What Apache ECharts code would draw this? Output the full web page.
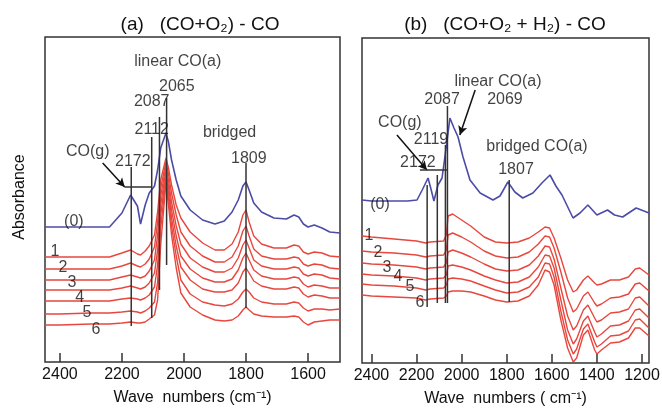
<!DOCTYPE html>
<html>
<head>
<meta charset="UTF-8">
<title></title>
<script src="https://cdn.jsdelivr.net/npm/echarts@6/dist/echarts.min.js"></script>
<style>html, body { margin: 0; padding: 0; background: #fff; }</style>
</head>
<body>
<div id="ftir" style="width: 662px; height: 408px;"></div>
<script type="text/javascript">
// ---- panel (a): (CO+O2) - CO ----
var waveA = [2448, 2400, 2300, 2240, 2200, 2172, 2150, 2140, 2125, 2112, 2095, 2085, 2075, 2058, 2050, 2040, 2025, 2010, 1980, 1940, 1900, 1870, 1845, 1825, 1810, 1800, 1790, 1775, 1750, 1710, 1670, 1645, 1630, 1615, 1600, 1580, 1555, 1530, 1497];
var blueA = [173, 173, 173, 173, 187, 205, 194, 176, 195, 207, 214, 230, 252, 267, 258, 240, 220, 204, 190, 180, 176, 179, 188, 200, 214, 218, 210, 197, 188, 182, 181, 185, 183, 176, 173, 175, 172, 168, 167];
var redA1 = [143, 143, 143, 143, 147, 150, 146, 145, 149, 154, 165, 188, 220, 242, 232, 215, 195, 182, 168, 157, 150, 150, 156, 168, 185, 190, 178, 164, 156, 152, 152, 155, 154, 148, 146, 148, 147, 144, 143];
var redA2 = [131, 131, 131, 131, 134, 137, 134, 133, 136, 141, 153, 178, 212, 238, 226, 207, 185, 168, 154, 144, 138, 138, 143, 154, 169, 174, 164, 151, 144, 141, 141, 143, 142, 136, 134, 136, 135, 132, 131];
var redA3 = [120, 120, 120, 120, 123, 125, 123, 122, 124, 129, 140, 165, 204, 234, 220, 198, 174, 156, 142, 133, 128, 128, 132, 142, 155, 160, 152, 140, 134, 131, 131, 133, 132, 126, 124, 126, 125, 122, 121];
var redA4 = [110, 110, 110, 110, 112, 114, 112, 111, 113, 117, 127, 150, 195, 230, 214, 190, 164, 144, 131, 122, 118, 118, 121, 130, 142, 147, 140, 130, 124, 121, 121, 123, 122, 116, 113, 115, 114, 112, 112];
var redA5 = [99, 99, 99, 99, 101, 102, 101, 100, 102, 105, 113, 135, 185, 226, 208, 182, 154, 133, 120, 111, 108, 108, 110, 117, 128, 132, 127, 119, 114, 111, 111, 113, 112, 106, 103, 105, 104, 102, 102];
var redA6 = [86, 86, 87, 87, 88, 89, 88, 87, 89, 92, 98, 118, 172, 222, 202, 174, 144, 120, 106, 98, 95, 94, 96, 101, 108, 111, 108, 102, 98, 96, 96, 98, 97, 92, 89, 91, 91, 90, 91];
var redA7 = [75, 75, 76, 76, 77, 78, 77, 77, 78, 81, 85, 100, 155, 218, 195, 165, 132, 107, 93, 85, 80, 79, 80, 84, 90, 93, 90, 86, 84, 83, 83, 84, 83, 78, 75, 78, 79, 80, 80];
var ticksA = [2400, 2200, 2000, 1800, 1600];
// peak marker lines: [wavenumber, bottom, top]
var peakLinesA = [[2170, 74, 233], [2104, 82, 263], [2079, 110, 283], [2056, 135, 302], [1800, 92, 237]];
var bracketA = [[2191, 213], [2104, 213]];
var arrowsA = [[2262, 237, 2191, 213]];
var labelsA = [
  ['linear CO(a)', 2020, 338], ['2065', 2023, 313], ['2087', 2104, 298], ['2112', 2104, 270],
  ['bridged', 1853, 267], ['1809', 1791, 241], ['CO(g)', 2310, 248], ['2172', 2165, 238],
  ['(0)', 2355, 178], ['1', 2416, 148], ['2', 2390, 132], ['3', 2361, 117],
  ['4', 2336, 102], ['5', 2313, 87], ['6', 2284, 70]
];

// ---- panel (b): (CO+O2+H2) - CO ----
var waveB0 = [2442, 2400, 2305, 2240, 2198, 2175, 2149, 2135, 2123, 2105, 2087, 2070, 2052, 2034, 2016, 1994, 1963, 1918, 1861, 1830, 1795, 1764, 1729, 1684, 1644, 1608, 1582, 1555, 1506, 1475, 1440, 1400, 1353, 1322, 1286, 1226, 1169];
var blueB = [200, 199, 199, 199, 200, 210, 222, 210, 199, 215, 222, 250, 282, 272, 263, 243, 220, 207, 200, 204, 218, 208, 202, 207, 217, 225, 214, 205, 182, 187, 195, 185, 190, 185, 183, 192, 187];
var waveB = [2442, 2400, 2300, 2200, 2160, 2140, 2080, 2068, 2060, 2040, 2000, 1960, 1900, 1850, 1800, 1750, 1700, 1660, 1630, 1610, 1590, 1560, 1530, 1505, 1490, 1460, 1440, 1410, 1400, 1380, 1340, 1300, 1260, 1230, 1210, 1169];
var redB1 = [164, 163, 161, 159, 157, 158, 159, 165, 184, 186, 180, 174, 163, 158, 157, 158, 162, 168, 173, 172, 162, 142, 120, 108, 110, 120, 124, 117, 115, 116, 120, 120, 123, 131, 132, 125];
var redB2 = [149, 148, 147, 145, 143, 144, 145, 150, 165, 167, 163, 158, 149, 144, 142, 143, 148, 156, 164, 163, 152, 128, 102, 88, 91, 104, 108, 97, 94, 96, 102, 103, 106, 116, 117, 109];
var redB3 = [137, 136, 135, 133, 131, 132, 133, 137, 148, 150, 147, 143, 136, 131, 129, 130, 135, 144, 154, 153, 141, 112, 84, 70, 74, 90, 95, 82, 78, 80, 87, 88, 91, 102, 103, 94];
var redB4 = [126, 125, 124, 122, 120, 121, 122, 125, 134, 135, 133, 130, 124, 120, 117, 118, 123, 133, 145, 144, 132, 100, 70, 56, 61, 79, 84, 68, 63, 66, 74, 75, 79, 90, 91, 82];
var redB5 = [116, 115, 114, 112, 110, 111, 112, 115, 121, 122, 121, 119, 114, 110, 107, 108, 113, 123, 137, 136, 123, 89, 60, 46, 51, 71, 76, 58, 53, 56, 64, 65, 69, 80, 81, 72];
var redB6 = [105, 104, 103, 102, 100, 101, 102, 104, 108, 109, 109, 108, 104, 100, 98, 99, 104, 115, 130, 128, 115, 80, 52, 38, 42, 65, 70, 50, 46, 50, 57, 58, 62, 72, 72, 64];
var ticksB = [2400, 2200, 2000, 1800, 1600, 1400, 1200];
var peakLinesB = [[2153, 93, 215], [2108, 97, 225], [2072, 97, 255], [2063, 97, 294], [1789, 98, 220]];
var bracketB = [[2185, 230], [2061, 230]];
var arrowsB = [[2287, 265, 2154, 230], [1940, 310, 2008, 265]];
var labelsB = [
  ['linear CO(a)', 1839, 318], ['2087', 2087, 300], ['2069', 1808, 300], ['CO(g)', 2274, 277],
  ['2119', 2136, 260], ['2172', 2194, 237], ['bridged CO(a)', 1666, 253], ['1807', 1759, 230],
  ['(0)', 2362, 195], ['1', 2411, 164], ['2', 2371, 147], ['3', 2331, 132],
  ['4', 2282, 123], ['5', 2229, 113], ['6', 2185, 97]
];

var BLUE = '#4c4ca6', RED = '#e8473e', INK = '#111';
var FONT = '"Liberation Sans", Arial, sans-serif';

function pairs(xs, ys) {
  return xs.map(function (x, i) { return [x, ys[i]]; });
}

function curve(idx, xs, ys, color, w) {
  return {
    type: 'line', xAxisIndex: idx, yAxisIndex: idx, data: pairs(xs, ys),
    showSymbol: false, silent: true, z: 2,
    lineStyle: { color: color, width: w }, itemStyle: { color: color }
  };
}

function panelSeries(idx, lines, bracket, arrows, labels) {
  var out = [];
  lines.forEach(function (l) {
    out.push({
      type: 'line', xAxisIndex: idx, yAxisIndex: idx, data: [[l[0], l[1]], [l[0], l[2]]],
      showSymbol: false, silent: true, z: 5,
      lineStyle: { color: '#333', width: 1.5 }
    });
  });
  out.push({
    type: 'line', xAxisIndex: idx, yAxisIndex: idx, data: bracket,
    showSymbol: false, silent: true, z: 5,
    lineStyle: { color: '#333', width: 1.5 },
    markLine: {
      silent: true, symbol: ['none', 'arrow'], symbolSize: [7, 9], animation: false,
      lineStyle: { color: INK, width: 1.5, type: 'solid' }, label: { show: false },
      data: arrows.map(function (a) { return [{ coord: [a[0], a[1]] }, { coord: [a[2], a[3]] }]; })
    }
  });
  out.push({
    type: 'scatter', xAxisIndex: idx, yAxisIndex: idx, symbolSize: 1, silent: true, z: 10,
    itemStyle: { color: 'rgba(0,0,0,0)' },
    data: labels.map(function (l) { return { name: l[0], value: [l[1], l[2]] }; }),
    label: { show: true, position: 'inside', formatter: '{b}', fontSize: 16, color: INK, fontFamily: FONT }
  });
  return out;
}

function xAxisFor(idx, lo, hi, ticks, name) {
  return {
    type: 'value', gridIndex: idx, inverse: true, min: lo, max: hi,
    axisLine: { show: false }, splitLine: { show: false },
    axisTick: { inside: true, length: 9, customValues: ticks, lineStyle: { color: '#333', width: 1.5 } },
    axisLabel: {
      customValues: ticks, fontSize: 16, color: INK, fontFamily: FONT, margin: 5,
      formatter: function (v) { return String(v); }
    },
    name: name, nameLocation: 'middle', nameGap: 28,
    nameTextStyle: { fontSize: 16, color: INK, fontFamily: FONT }
  };
}

var chart = echarts.init(document.getElementById('ftir'));

var series = [curve(0, waveA, blueA, BLUE, 1.6)];
[redA1, redA2, redA3, redA4, redA5, redA6, redA7].forEach(function (r) {
  series.push(curve(0, waveA, r, RED, 1.4));
});
series = series.concat(panelSeries(0, peakLinesA, bracketA, arrowsA, labelsA));
series.push(curve(1, waveB0, blueB, BLUE, 1.6));
[redB1, redB2, redB3, redB4, redB5, redB6].forEach(function (r) {
  series.push(curve(1, waveB, r, RED, 1.4));
});
series = series.concat(panelSeries(1, peakLinesB, bracketB, arrowsB, labelsB));

chart.setOption({
  animation: false,
  grid: [
    { left: 45, top: 37, width: 295, height: 325, show: true, borderColor: '#333', borderWidth: 1.5, outerBoundsMode: 'none', containLabel: false },
    { left: 362, top: 38, width: 287, height: 325, show: true, borderColor: '#333', borderWidth: 1.5, outerBoundsMode: 'none', containLabel: false }
  ],
  xAxis: [
    xAxisFor(0, 1497, 2448, ticksA, 'Wave  numbers (cm⁻¹)'),
    xAxisFor(1, 1169, 2442, ticksB, 'Wave  numbers ( cm⁻¹)')
  ],
  yAxis: [
    { type: 'value', gridIndex: 0, min: 38, max: 363, show: false },
    { type: 'value', gridIndex: 1, min: 37, max: 362, show: false }
  ],
  graphic: [
    { type: 'text', x: 200, y: 25, style: { text: '(a)   (CO+O₂) - CO', fill: INK, font: '19px ' + FONT, align: 'center', verticalAlign: 'middle' } },
    { type: 'text', x: 505, y: 25, style: { text: '(b)   (CO+O₂ + H₂) - CO', fill: INK, font: '19px ' + FONT, align: 'center', verticalAlign: 'middle' } },
    { type: 'text', x: 20, y: 197, rotation: Math.PI / 2, style: { text: 'Absorbance', fill: INK, font: '16px ' + FONT, align: 'center', verticalAlign: 'middle' } }
  ],
  series: series
});
</script>
</body>
</html>
